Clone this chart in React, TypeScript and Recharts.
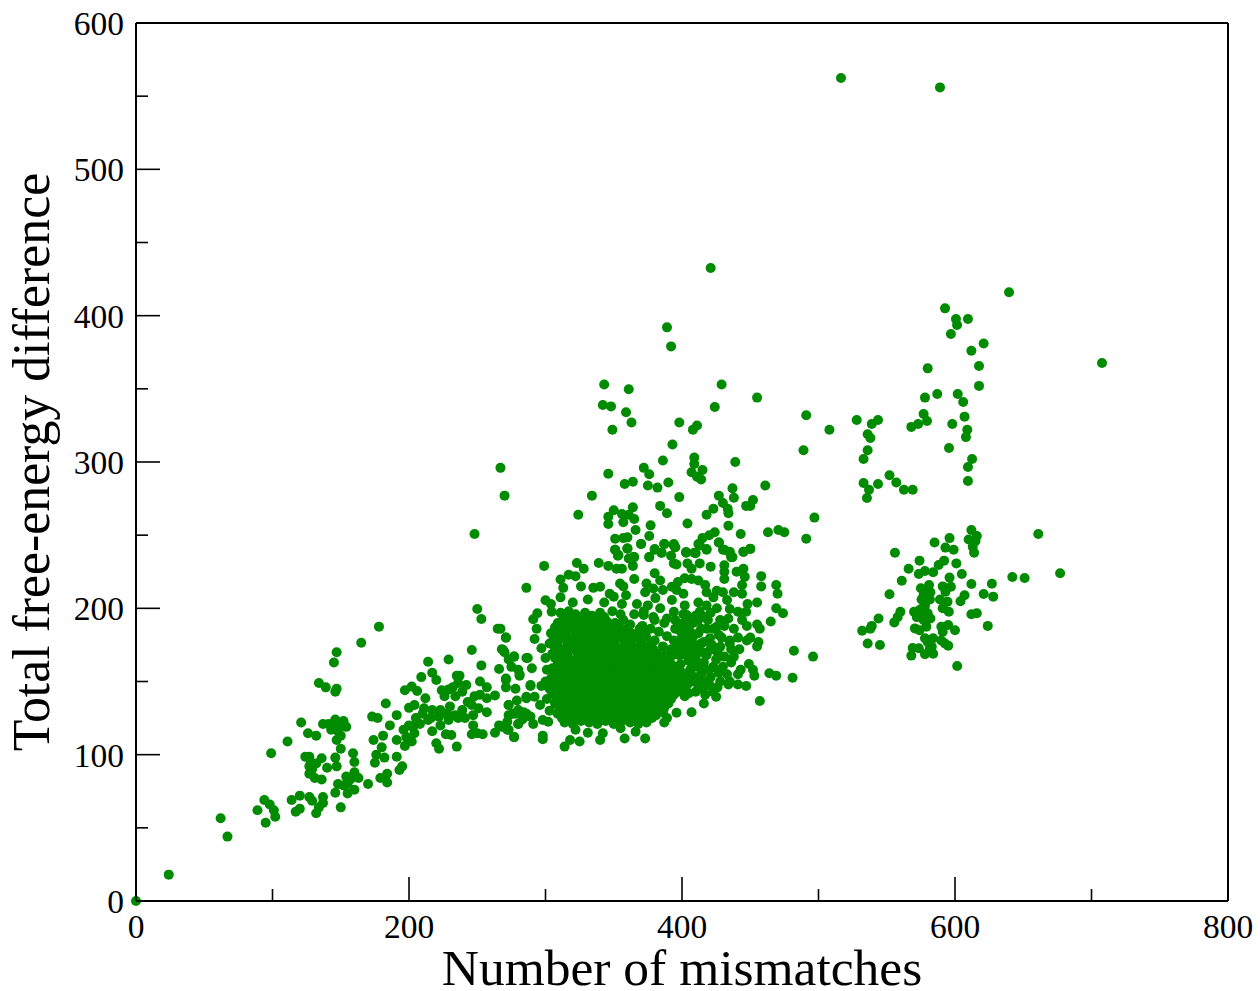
import React from 'react';
import { ScatterChart, Scatter, XAxis, YAxis } from 'recharts';

type Pt = [number, number];

const xTicks = [0, 100, 200, 300, 400, 500, 600, 700, 800];
const yTicks = [0, 50, 100, 150, 200, 250, 300, 350, 400, 450, 500, 550, 600];

const lowTail: Pt[] = [
  [0, 0], [24, 18], [67, 44], [62, 56.5], [95, 53.5], [102, 57.6], [89, 62], [94, 69], [98, 66], [101, 62],
  [114, 69], [117, 61], [120, 63], [120, 72], [127, 71], [129, 68.5], [137, 71], [137, 67], [134, 64], [132, 60],
  [150, 64], [146, 74], [148, 80], [155, 73.5], [160, 76], [152, 79], [157, 83], [163, 84], [160, 88], [154, 85],
  [170, 80], [179, 84], [184, 81], [184, 87], [193, 89.5], [195, 92], [191, 98.6], [182, 98], [175, 94.5], [176, 100],
  [180, 105], [174, 110], [191, 110], [181, 113], [186, 120], [173, 126], [177, 125], [183, 135], [191, 127], [159, 101],
  [160, 95], [147, 92], [146, 98], [140, 91], [136, 97.5], [132, 94], [136, 83], [131, 84], [127, 87], [127, 92],
  [124, 98.6], [127, 98.6], [150, 104], [147, 110], [143, 117], [148, 116], [154, 119], [152, 123], [146, 124], [141, 121],
  [137, 121], [121, 122], [126, 114.6], [132, 113], [111, 109], [99, 101], [134, 149], [139, 146], [147, 145], [146, 143],
  [145, 163], [147, 170], [165, 176.5], [178, 187.5], [148, 120], [150, 113], [145, 119], [129, 90], [128, 95], [155, 80],
];

const midBand: Pt[] = [
  [250, 199.5], [253, 192.7], [265, 186], [271, 180], [268, 172], [246, 171.5], [270, 170], [277, 167], [229, 165], [214, 163.5],
  [253, 161], [286, 166], [273, 165], [266, 158.5], [275, 160], [280, 158], [281, 154], [217, 156], [220, 151], [209, 153],
  [235, 154], [237, 154], [242, 147.6], [236, 149], [202, 146.5], [206, 143.5], [197, 144], [252, 150], [257, 146], [263, 140.5],
  [271, 151], [271, 146], [278, 145], [289, 147], [224, 144], [229, 144.6], [226, 140], [234, 140], [212, 138.5], [248, 140],
  [252, 141], [257, 138.5], [243, 136], [200, 132], [204, 134], [211, 131.7], [217, 130.5], [223, 130.5], [230, 133], [239, 130.5],
  [251, 131.7], [257, 129], [273, 134], [279, 137], [286, 138.5], [280, 130.5], [273, 127], [286, 128], [289, 126], [280, 121],
  [272, 122.5], [266, 120], [263, 115], [273, 117], [277, 112], [254, 114], [250, 114.6], [246, 114], [247, 120], [247, 127],
  [236, 125], [229, 123.7], [223, 120], [214, 123.7], [208, 121], [217, 116], [203, 119], [200, 120], [196, 117], [204, 114.6],
  [198, 112], [202, 109], [197, 106], [227, 114], [231, 113.4], [235, 105.5], [220, 107.8], [222, 104], [205, 125], [210, 128],
  [216, 125], [222, 126], [228, 128], [234, 127], [241, 125], [246, 134], [232, 146], [239, 143], [276, 128], [283, 124],
];

const coreFill: Pt[] = [
  [311, 197], [317, 198], [322, 196], [329, 197], [334, 195], [340, 197], [349, 198], [355, 196],
  [309, 190], [315, 191], [321, 189], [327, 191], [333, 190], [339, 189], [345, 191], [351, 190], [357, 192], [362, 189],
  [304, 183], [310, 184], [315, 182], [322, 184], [327, 183], [334, 182], [339, 184], [345, 183], [351, 182], [357, 184], [363, 183], [369, 182],
  [303, 176], [309, 177], [316, 175], [321, 177], [328, 176], [333, 175], [340, 177], [346, 176], [351, 175], [358, 177], [363, 175], [370, 176], [376, 174],
  [305, 169], [311, 170], [316, 168], [323, 170], [328, 169], [334, 168], [340, 170], [346, 168], [352, 170], [358, 169], [364, 168], [370, 170], [376, 168], [382, 169], [388, 168],
  [309, 162], [314, 163], [320, 161], [326, 163], [332, 162], [338, 161], [344, 163], [350, 161], [356, 163], [362, 162], [368, 161], [374, 163], [380, 161], [386, 163], [392, 162], [397, 160],
  [307, 155], [312, 156], [318, 154], [324, 156], [330, 155], [336, 154], [342, 156], [348, 154], [354, 156], [360, 155], [366, 154], [372, 156], [378, 154], [384, 156], [390, 155], [396, 154],
  [306, 149], [312, 148], [318, 150], [324, 148], [330, 149], [336, 150], [342, 148], [348, 150], [354, 148], [360, 149], [366, 150], [372, 148], [378, 150], [384, 148], [390, 149], [395, 148],
  [305, 142], [311, 143], [317, 141], [323, 143], [329, 142], [335, 141], [341, 143], [347, 141], [353, 143], [359, 142], [365, 141], [371, 143], [377, 141], [383, 143], [389, 142], [394, 141],
  [307, 135], [313, 136], [319, 134], [325, 136], [331, 135], [337, 134], [343, 136], [349, 134], [355, 136], [361, 135], [367, 134], [373, 136], [379, 134], [385, 136], [390, 135],
  [309, 128], [315, 129], [321, 127], [327, 129], [333, 128], [339, 127], [345, 129], [351, 127], [357, 129], [363, 128], [369, 127], [375, 129], [381, 127], [386, 129],
  [314, 122], [320, 121], [326, 123], [332, 122], [338, 121], [344, 123], [350, 121], [356, 123], [362, 122], [368, 121], [374, 122],
];

const coreInfill: Pt[] = [
  [313, 193], [319, 194], [325, 193], [331, 193], [337, 193], [343, 194],
  [307, 187], [312, 187], [318, 186], [324, 187], [330, 186], [336, 186], [342, 187], [348, 186], [354, 187], [360, 186],
  [306, 180], [312, 180], [318, 179], [324, 180], [330, 179], [336, 179], [342, 180], [348, 179], [354, 180], [360, 179], [366, 180],
  [307, 173], [313, 172], [319, 173], [325, 173], [331, 172], [337, 173], [343, 172], [349, 173], [355, 172], [361, 172], [367, 173], [373, 172], [379, 172],
  [307, 166], [312, 166], [318, 165], [324, 166], [330, 165], [336, 165], [342, 166], [348, 165], [354, 166], [360, 165], [366, 165], [372, 166], [378, 165], [384, 166], [390, 165],
  [305, 159], [311, 159], [317, 158], [323, 159], [329, 158], [335, 158], [341, 159], [347, 158], [353, 159], [359, 158], [365, 158], [371, 159], [377, 158], [383, 159], [389, 158], [394, 158],
  [304, 152], [309, 152], [315, 152], [321, 152], [327, 152], [333, 152], [339, 152], [345, 152], [351, 152], [357, 152], [363, 152], [369, 152], [375, 152], [381, 152], [387, 152], [393, 151],
  [303, 146], [309, 145], [315, 145], [321, 146], [327, 145], [333, 145], [339, 146], [345, 145], [351, 146], [357, 145], [363, 145], [369, 146], [375, 145], [381, 146], [387, 145], [392, 145],
  [308, 139], [314, 138], [320, 139], [326, 138], [332, 138], [338, 139], [344, 138], [350, 139], [356, 138], [362, 138], [368, 139], [374, 138], [380, 139], [386, 138], [392, 138],
  [310, 132], [316, 131], [322, 132], [328, 131], [334, 131], [340, 132], [346, 131], [352, 132], [358, 131], [364, 131], [370, 132], [376, 131], [382, 132], [387, 132],
  [312, 125], [318, 125], [324, 126], [330, 125], [336, 125], [342, 126], [348, 125], [354, 126], [360, 125], [366, 125], [372, 126], [378, 125],
  [399, 176], [405, 171], [410, 166], [416, 163], [399, 162], [406, 158], [414, 155], [421, 153], [427, 156], [433, 155],
  [400, 146], [407, 150], [414, 150], [423, 143], [398, 172], [408, 176], [415, 170], [422, 175], [412, 183], [418, 186],
  [405, 180], [395, 186], [401, 196], [408, 190], [414, 186], [387, 190], [380, 192], [372, 198], [393, 168], [400, 156],
  [426, 170], [431, 167], [436, 172], [429, 180], [423, 186], [431, 188], [438, 186], [442, 172], [436, 163], [441, 155],
  [435, 150], [426, 146], [416, 150], [403, 168], [409, 160], [416, 158], [423, 160], [408, 170], [414, 176], [401, 190],
  [407, 183], [421, 197], [428, 192], [403, 183], [397, 176], [399, 150], [404, 153], [411, 149], [417, 141], [397, 143],
];

const coreFringe: Pt[] = [
  [299, 229], [286, 214], [300, 205.5], [323, 231], [328, 227], [339, 231], [346, 229], [352, 227], [356, 227], [364, 229],
  [360, 241], [351, 240], [353.5, 236.5], [364.5, 235], [370, 244], [376, 235], [380, 240], [385, 238], [387, 244], [394, 243],
  [395, 241.7], [394, 230.7], [396, 230], [403, 238], [410, 237.6], [413, 243], [418, 240], [427, 245], [404, 230.7], [407, 227],
  [413, 230.7], [421, 228.5], [430, 240], [435, 238], [437, 235], [445, 238.6], [450, 240.5], [431, 229.5], [431, 225], [440, 225],
  [445, 227], [446, 221.6], [431, 220], [444, 216], [438, 211], [444, 210], [458, 222], [458, 215], [469, 216], [470, 210],
  [455, 204], [448, 203], [469, 200], [474, 196.6], [465, 191], [455, 189], [457, 186], [456, 177], [455, 174], [450, 180],
  [447.5, 178], [441, 180], [435, 178], [435, 176], [482, 171], [496, 167], [438, 167], [449, 162], [452, 158], [453, 154],
  [443, 158], [464, 155.6], [469, 154], [481, 152.6], [441, 148], [447, 147], [457, 136.7], [425, 139.6], [416, 135], [407, 129],
  [396, 128.7], [389, 125], [387, 122], [373, 111], [358, 111], [340, 110], [325, 109], [318, 110], [314, 105.5], [298, 110.5],
  [298, 113], [277, 112], [366, 115.7], [369, 123.7], [355, 118], [342, 114.6], [331, 115], [322, 117], [298, 123.7], [302, 122.5],
  [291, 121], [280, 121], [272, 117], [268, 119], [296, 134], [292, 139.6], [286, 139.6], [284, 129], [273, 134], [278, 128],
  [289, 147.6], [297, 147], [271, 152], [281, 155], [277, 167], [271, 180], [267, 186], [269, 171.5], [287, 166], [290, 159],
  [297, 172.7], [292, 179], [294, 196.6], [291, 192.5], [293.5, 186], [304.5, 197.7], [311, 219.7], [313, 214], [311, 207.5], [317, 223],
  [322, 222], [326, 215], [335, 214], [340, 214.8], [347, 210], [350, 208], [357, 215], [359, 209], [354.6, 217], [356, 203],
  [367, 203], [365, 220], [380, 224], [384, 219], [374, 217], [373, 211], [379, 213.6], [386, 212.5], [380.5, 207], [392.6, 214.8],
  [397, 218], [402, 220.5], [407, 220], [412, 219], [417, 216], [418, 211], [396, 212.5], [401, 210], [425.5, 212], [430, 211],
  [423, 207.5], [433, 205.7], [412, 204], [418, 202], [425.5, 200], [402, 202], [392.6, 205.7], [394, 197.7], [384, 200], [375, 202],
  [372, 195.5], [379, 194], [389, 193], [395, 192], [403.5, 195.5], [413, 197.7], [419, 192], [425.5, 187.5], [435, 199.5], [434, 193],
  [441, 197.7], [447, 197.7], [444, 192], [447.5, 188], [427, 181.8], [420.5, 179.5], [416, 177], [420.5, 171.5], [428, 173.8], [408, 180.6],
  [400, 180.6], [394, 178], [386, 174], [374, 185], [369, 186], [398, 185], [405, 187], [412, 192], [417, 194], [410, 195],
  [403, 192], [398, 188], [403, 175], [411, 172], [418, 168], [425, 165], [398, 168], [405, 164], [412, 160], [420, 158],
  [430, 160], [409, 153], [398, 152], [404, 148], [412, 145], [420, 148], [428, 150], [434, 148], [405, 142], [402, 140],
  [410, 143], [418, 147], [371, 188], [377, 186], [383, 184], [389, 181], [374, 180], [380, 178], [392, 172], [300, 150],
  [303, 145], [301, 138], [303, 130], [301, 158], [300, 166], [304, 203], [320, 204], [331, 206], [343, 204], [365, 196],
];

const upperScatter: Pt[] = [
  [343, 353], [361, 349.7], [342, 339], [348, 338], [359, 334], [363, 327], [349, 322], [429, 353], [455, 344], [424, 337.6],
  [398, 327], [411, 325], [408, 322], [491, 332], [508, 322], [489, 308], [393, 312], [386, 301], [409, 303], [409, 298.6],
  [415, 294.5], [407, 293], [411, 290], [414, 288], [439, 300], [372, 296], [376, 291.6], [346, 292], [358, 285], [364, 286.5],
  [375, 284], [382, 282.5], [390, 286], [334, 277], [398, 276], [461, 284], [437, 282], [438, 275.6], [427, 277], [430, 272],
  [433.5, 268], [452, 274], [447, 270], [450, 270], [497, 262], [434, 265], [423, 268], [418, 264], [324, 264], [384, 270],
  [389, 265], [364, 269], [350, 267], [346, 262.6], [356, 264.5], [361, 264], [365, 261], [357, 258.8], [346, 257.6], [366, 253.5],
  [377, 256.7], [404, 258], [434, 256.5], [443, 250.8], [463, 252], [470.6, 253.5], [475, 252], [491, 247.6], [351, 247.6], [357, 248],
  [360, 248.5], [376, 249.4], [370, 244], [387, 244], [394, 244], [424, 252], [420, 250], [415, 248], [412, 244], [427, 245],
  [351, 240], [360, 240.8], [353, 236], [365, 235], [361, 234], [380, 240.5], [395, 241.7], [376, 235], [385, 238], [392, 236],
  [403, 238.5], [409, 238], [418, 240.5], [431, 240], [435, 238.7], [436, 235], [445, 238.7], [450, 240.8], [392, 379], [389, 392],
  [267, 296], [270, 277], [248, 250.8],
];

const rightCluster: Pt[] = [
  [661, 250.8], [677, 224], [642, 221.4], [651, 220.7], [612, 253.5], [596, 248], [585, 245], [610, 247], [616, 249.4], [615, 246],
  [613, 242], [614, 238], [593, 241.5], [599, 240], [556, 238], [574, 232.6], [592, 232.6], [601, 230.7], [588, 229.6], [566, 227],
  [578, 225.5], [573.5, 223.5], [584, 224.6], [596, 221], [605, 223.5], [561, 218.9], [612, 216.6], [627, 216.8], [581, 216], [575, 213.7],
  [591, 215], [597, 214.8], [593, 211.4], [621, 209.8], [628, 208], [552, 209.6], [577, 209], [582, 211], [607, 209], [604, 204.8],
  [589, 206], [594.5, 204.5], [575.5, 206], [581.6, 206], [578, 202], [591, 200], [560, 197.7], [558, 194], [555.5, 190.4], [570, 197.7],
  [574, 198.9], [580, 196.6], [595.5, 197.7], [612, 196], [616, 196.6], [572, 194], [577, 196.6], [582, 193], [544, 193], [539, 188],
  [538, 186], [532, 184.7], [624, 188], [570.6, 186.3], [574, 185], [579, 187.5], [590, 187.5], [595, 188.6], [600, 185], [591, 184],
  [584, 179.5], [578, 179.5], [580, 177], [536, 176], [545, 175], [590, 178], [592.6, 176], [595, 174.5], [583, 173.8], [569, 172.9],
  [573.5, 172.7], [568, 167.7], [578, 168.6], [584, 169], [581.6, 172.7], [601.6, 160.6], [578, 198], [579, 211], [576, 200], [577, 192],
];

const rightUpper: Pt[] = [
  [516.5, 562.4], [589, 556], [421, 432.6], [639.6, 416], [592.7, 405], [609.5, 397.7], [600.7, 397.7], [601.5, 393.6], [597, 387.5], [621, 381],
  [612, 376], [617.6, 365.6], [707.7, 367.6], [580, 364], [617.6, 352], [587, 346.5], [578, 344], [602, 346.5], [606, 341], [577, 332.8],
  [607, 331], [528, 328.7], [543.6, 328.7], [539, 326], [536, 319], [538, 316.4], [536, 308], [533, 302], [568, 324], [573, 326],
  [579.5, 328], [598, 326], [609, 322], [608, 317], [595.6, 309.6], [612.5, 302], [609.5, 296.6], [609.5, 287], [552, 291], [557, 286],
  [543.6, 285], [533, 285.6], [537, 281], [535.5, 275.4], [562.6, 281], [569, 281],
];

const allPoints = [
  ...lowTail,
  ...midBand,
  ...coreFill,
  ...coreInfill,
  ...coreFringe,
  ...upperScatter,
  ...rightCluster,
  ...rightUpper,
].map(([x, y]) => ({ x, y }));

const serif = '"Liberation Serif", "Times New Roman", serif';
const GREEN = '#008b00';

// grace-style ticks: pointing into the plot, longer on the labelled ones
const BottomTick = ({ x, y, payload }: any) => {
  const major = payload.value % 200 === 0;
  return (
    <g>
      <line x1={x} x2={x} y1={y} y2={y - (major ? 24 : 12)} stroke="#000" strokeWidth={1.6} />
      {major && (
        <text x={x} y={y + 37} textAnchor="middle" fontFamily={serif} fontSize={33.5} fill="#000">
          {payload.value}
        </text>
      )}
    </g>
  );
};

const TopTick = ({ x, y, payload }: any) => {
  const major = payload.value % 200 === 0;
  return <line x1={x} x2={x} y1={y} y2={y + (major ? 24 : 12)} stroke="#000" strokeWidth={1.6} />;
};

const LeftTick = ({ x, y, payload }: any) => {
  const major = payload.value % 100 === 0;
  return (
    <g>
      <line x1={x} x2={x + (major ? 24 : 12)} y1={y} y2={y} stroke="#000" strokeWidth={1.6} />
      {major && (
        <text x={x - 12} y={y + 12} textAnchor="end" fontFamily={serif} fontSize={33.5} fill="#000">
          {payload.value}
        </text>
      )}
    </g>
  );
};

const RightTick = ({ x, y, payload }: any) => {
  const major = payload.value % 100 === 0;
  return <line x1={x} x2={x - (major ? 24 : 12)} y1={y} y2={y} stroke="#000" strokeWidth={1.6} />;
};

const Dot = ({ cx, cy }: any) => <circle cx={cx} cy={cy} r={5} fill={GREEN} />;

const axisLine = { stroke: '#000', strokeWidth: 2 };

export default function App() {
  return (
    <div style={{ position: 'absolute', left: 0, top: 0, width: 1260, height: 991, background: '#fff' }}>
      <ScatterChart width={1260} height={991} margin={{ top: 22, right: 31, bottom: 0, left: 0 }}>
        <XAxis
          xAxisId="bottom"
          dataKey="x"
          type="number"
          domain={[0, 800]}
          ticks={xTicks}
          interval={0}
          height={90}
          tickSize={0}
          tickMargin={0}
          axisLine={axisLine}
          tickLine={false}
          tick={<BottomTick />}
          label={{
            value: 'Number of mismatches',
            position: 'insideBottom',
            offset: 6,
            style: { fontFamily: serif, fontSize: 51.5, fill: '#000' },
          }}
        />
        <XAxis
          xAxisId="top"
          orientation="top"
          dataKey="x"
          type="number"
          domain={[0, 800]}
          ticks={xTicks}
          interval={0}
          height={1}
          tickSize={0}
          tickMargin={0}
          axisLine={axisLine}
          tickLine={false}
          tick={<TopTick />}
        />
        <YAxis
          yAxisId="left"
          dataKey="y"
          type="number"
          domain={[0, 600]}
          ticks={yTicks}
          interval={0}
          width={136}
          tickSize={0}
          tickMargin={0}
          axisLine={axisLine}
          tickLine={false}
          tick={<LeftTick />}
          label={{
            value: 'Total free-energy difference',
            angle: -90,
            position: 'insideLeft',
            offset: 31,
            style: { fontFamily: serif, fontSize: 51.8, fill: '#000', textAnchor: 'middle' },
          }}
        />
        <YAxis
          yAxisId="right"
          orientation="right"
          dataKey="y"
          type="number"
          domain={[0, 600]}
          ticks={yTicks}
          interval={0}
          width={1}
          tickSize={0}
          tickMargin={0}
          axisLine={axisLine}
          tickLine={false}
          tick={<RightTick />}
        />
        <Scatter
          xAxisId="bottom"
          yAxisId="left"
          data={allPoints}
          fill={GREEN}
          shape={<Dot />}
          isAnimationActive={false}
        />
      </ScatterChart>
    </div>
  );
}
